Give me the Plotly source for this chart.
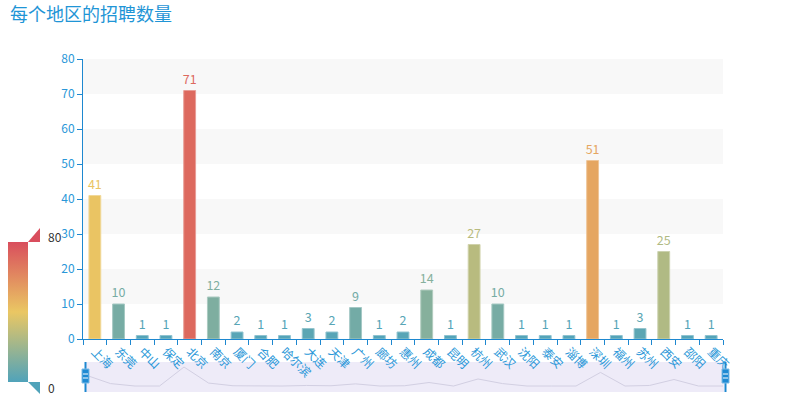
import plotly.graph_objects as go
from plotly.colors import sample_colorscale, unlabel_rgb

# ---------------- data ----------------
title_text = "每个地区的招聘数量"
cities = ["上海", "东莞", "中山", "保定", "北京", "南京", "厦门", "合肥", "哈尔滨",
          "大连", "天津", "广州", "廊坊", "惠州", "成都", "昆明", "杭州", "武汉",
          "沈阳", "泰安", "淄博", "深圳", "福州", "苏州", "西安", "邵阳", "重庆"]
counts = [41, 10, 1, 1, 71, 12, 2, 1, 1, 3, 2, 9, 1, 2, 14, 1, 27, 10,
          1, 1, 1, 51, 1, 3, 25, 1, 1]
y_ticks = [0, 10, 20, 30, 40, 50, 60, 70, 80]
vmin, vmax = 0, 80
scale = [[0.0, "#50a3ba"], [0.5, "#eac763"], [1.0, "#d94e5d"]]

# ---------------- geometry helpers ----------------
W, H = 804, 406
L, R, T, B = 83, 81, 59, 14
PW = W - L - R
PH = H - T - B


def px(x):
    return (x - L) / PW


def py(y):
    return (H - B - y) / PH


AX_LINE = "#1e88d0"
AX_TEXT = "#2a97d8"
FONT = "Noto Sans CJK SC"

bar_cols = sample_colorscale(scale, [(v - vmin) / (vmax - vmin) for v in counts])


def lighten(c, f=0.35):
    r, g, b = unlabel_rgb(c)
    return "rgb(%d,%d,%d)" % (r + (255 - r) * f, g + (255 - g) * f, b + (255 - b) * f)


edge_cols = [lighten(c) for c in bar_cols]

fig = go.Figure()

fig.add_trace(go.Bar(
    x=cities, y=counts,
    marker=dict(color=counts, coloraxis="coloraxis",
                line=dict(color=edge_cols, width=1)),
    text=counts, textposition="outside", constraintext="none",
    textfont=dict(color=bar_cols, size=12.5, family=FONT),
    cliponaxis=False, hoverinfo="x+y", xaxis="x", yaxis="y",
))

# data zoom shadow
fig.add_trace(go.Scatter(
    x=list(range(len(counts))), y=counts, mode="lines",
    line=dict(color="#d2cfe2", width=1), hoverinfo="skip",
    xaxis="x2", yaxis="y2", showlegend=False,
))

shapes = []
# split areas
for i in range(len(y_ticks) - 1):
    if i % 2 == 1:
        shapes.append(dict(type="rect", xref="paper", yref="y", x0=0, x1=1,
                           y0=y_ticks[i], y1=y_ticks[i + 1],
                           fillcolor="#f8f8f8", line=dict(width=0), layer="below"))

# slider background
shapes.append(dict(type="rect", xref="paper", yref="paper",
                   x0=px(86), x1=px(724), y0=py(392), y1=py(362),
                   fillcolor="#eeebf8", line=dict(width=0), layer="below"))

# slider handles
for hx in (85.5, 725.5):
    shapes.append(dict(type="line", xref="paper", yref="paper",
                       x0=px(hx), x1=px(hx), y0=py(392), y1=py(362),
                       line=dict(color=AX_LINE, width=2)))
    shapes.append(dict(type="rect", xref="paper", yref="paper",
                       x0=px(hx - 3.5), x1=px(hx + 3.5), y0=py(383), y1=py(369),
                       fillcolor="#1f8ad3", line=dict(color="#7dbbe6", width=1)))
    for ly in (374, 378):
        shapes.append(dict(type="line", xref="paper", yref="paper",
                           x0=px(hx - 2.5), x1=px(hx + 2.5), y0=py(ly), y1=py(ly),
                           line=dict(color="white", width=1)))

# visual map triangles
def tri(pts, color):
    d = "M " + " L ".join("%f,%f" % (px(a), py(b)) for a, b in pts) + " Z"
    return dict(type="path", xref="paper", yref="paper", path=d,
                fillcolor=color, line=dict(width=0))


shapes.append(tri([(28, 242), (40, 242), (40, 228)], "#d94e5d"))
shapes.append(tri([(28, 382), (40, 382), (40, 394)], "#50a3ba"))

annotations = [
    dict(text=str(vmax), xref="paper", yref="paper", x=px(46), y=py(236),
         xanchor="left", yanchor="middle", showarrow=False,
         font=dict(size=12, color="#333", family=FONT)),
    dict(text=str(vmin), xref="paper", yref="paper", x=px(46), y=py(387),
         xanchor="left", yanchor="middle", showarrow=False,
         font=dict(size=12, color="#333", family=FONT)),
    dict(text=title_text, xref="paper", yref="paper", x=px(8), y=py(12.5),
         xanchor="left", yanchor="middle", showarrow=False,
         font=dict(size=18, color="#1f95d6", family=FONT)),
]

fig.update_layout(
    width=W, height=H,
    margin=dict(l=L, r=R, t=T, b=B, pad=0, autoexpand=False),
    paper_bgcolor="white", plot_bgcolor="white",
    font=dict(family=FONT, size=12, color=AX_TEXT),
    showlegend=False,
    bargap=0.5,
    xaxis=dict(type="category", domain=[0, 1], anchor="y", automargin=False,
               tickson="boundaries", ticks="outside", ticklen=5,
               tickcolor=AX_LINE, showline=True, linecolor=AX_LINE,
               tickangle=45, tickfont=dict(size=12, color=AX_TEXT, family=FONT),
               showgrid=False, fixedrange=True),
    yaxis=dict(domain=[py(339), 1], anchor="x", range=[vmin, vmax], automargin=False,
               tickvals=y_ticks, ticks="outside", ticklen=5, tickcolor=AX_LINE,
               showline=True, linecolor=AX_LINE, showgrid=False, zeroline=False,
               tickfont=dict(size=12, color=AX_TEXT, family=FONT), fixedrange=True),
    xaxis2=dict(domain=[px(86), 1], anchor="y2", range=[0, len(counts) - 1],
                visible=False, fixedrange=True),
    yaxis2=dict(domain=[0, py(362)], anchor="x2", range=[-21, 89.5],
                visible=False, fixedrange=True),
    coloraxis=dict(cmin=vmin, cmax=vmax, colorscale=scale,
                   colorbar=dict(xref="paper", x=px(8), xanchor="left",
                                 yref="paper", y=py(382), yanchor="bottom",
                                 len=140, lenmode="pixels", thickness=20,
                                 thicknessmode="pixels", outlinewidth=0,
                                 showticklabels=False, ticks="", xpad=0, ypad=0)),
    shapes=shapes,
    annotations=annotations,
)

fig.write_html("out.html")
